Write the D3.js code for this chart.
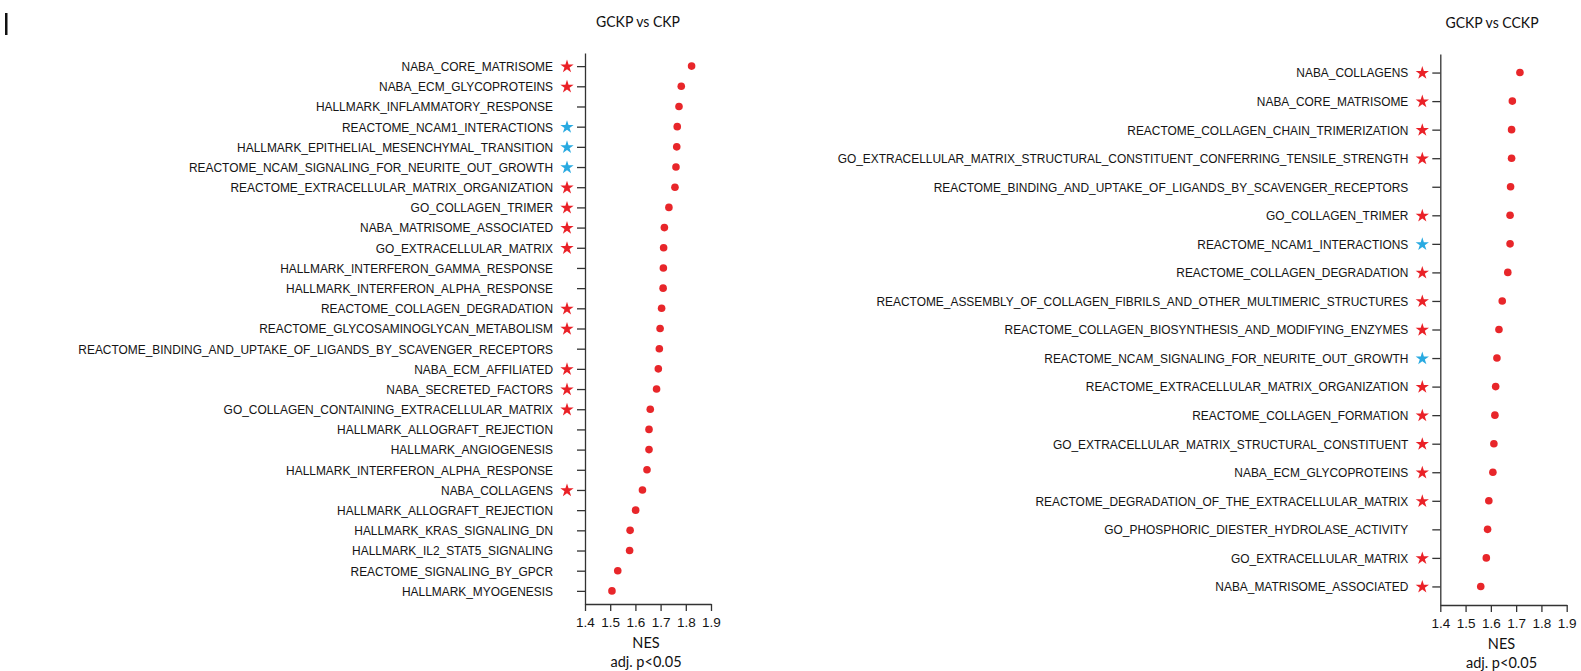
<!DOCTYPE html>
<html>
<head>
<meta charset="utf-8">
<script src="https://cdn.jsdelivr.net/npm/d3@7"></script>
<style>
  body { margin: 0; background: #fff; }
  svg { display: block; font-family: Lato, "Noto Sans", sans-serif; }
</style>
</head>
<body>
<svg id="chart" width="1581" height="671"></svg>
<script>
// GCKP vs CKP
const leftLabels = [
    'NABA_CORE_MATRISOME',
    'NABA_ECM_GLYCOPROTEINS',
    'HALLMARK_INFLAMMATORY_RESPONSE',
    'REACTOME_NCAM1_INTERACTIONS',
    'HALLMARK_EPITHELIAL_MESENCHYMAL_TRANSITION',
    'REACTOME_NCAM_SIGNALING_FOR_NEURITE_OUT_GROWTH',
    'REACTOME_EXTRACELLULAR_MATRIX_ORGANIZATION',
    'GO_COLLAGEN_TRIMER',
    'NABA_MATRISOME_ASSOCIATED',
    'GO_EXTRACELLULAR_MATRIX',
    'HALLMARK_INTERFERON_GAMMA_RESPONSE',
    'HALLMARK_INTERFERON_ALPHA_RESPONSE',
    'REACTOME_COLLAGEN_DEGRADATION',
    'REACTOME_GLYCOSAMINOGLYCAN_METABOLISM',
    'REACTOME_BINDING_AND_UPTAKE_OF_LIGANDS_BY_SCAVENGER_RECEPTORS',
    'NABA_ECM_AFFILIATED',
    'NABA_SECRETED_FACTORS',
    'GO_COLLAGEN_CONTAINING_EXTRACELLULAR_MATRIX',
    'HALLMARK_ALLOGRAFT_REJECTION',
    'HALLMARK_ANGIOGENESIS',
    'HALLMARK_INTERFERON_ALPHA_RESPONSE',
    'NABA_COLLAGENS',
    'HALLMARK_ALLOGRAFT_REJECTION',
    'HALLMARK_KRAS_SIGNALING_DN',
    'HALLMARK_IL2_STAT5_SIGNALING',
    'REACTOME_SIGNALING_BY_GPCR',
    'HALLMARK_MYOGENESIS'
]
const leftNES = [1.823, 1.782, 1.773, 1.766, 1.764, 1.761, 1.757, 1.733, 1.715, 1.712,
    1.711, 1.710, 1.704, 1.698, 1.695, 1.691, 1.684, 1.659, 1.654, 1.654,
    1.646, 1.628, 1.601, 1.579, 1.577, 1.530, 1.507]
const leftStars = ['red', 'red', '', 'blue', 'blue', 'blue', 'red', 'red', 'red', 'red',
    '', '', 'red', 'red', '', 'red', 'red', 'red', '', '',
    '', 'red', '', '', '', '', '']

// GCKP vs CCKP
const rightLabels = [
    'NABA_COLLAGENS',
    'NABA_CORE_MATRISOME',
    'REACTOME_COLLAGEN_CHAIN_TRIMERIZATION',
    'GO_EXTRACELLULAR_MATRIX_STRUCTURAL_CONSTITUENT_CONFERRING_TENSILE_STRENGTH',
    'REACTOME_BINDING_AND_UPTAKE_OF_LIGANDS_BY_SCAVENGER_RECEPTORS',
    'GO_COLLAGEN_TRIMER',
    'REACTOME_NCAM1_INTERACTIONS',
    'REACTOME_COLLAGEN_DEGRADATION',
    'REACTOME_ASSEMBLY_OF_COLLAGEN_FIBRILS_AND_OTHER_MULTIMERIC_STRUCTURES',
    'REACTOME_COLLAGEN_BIOSYNTHESIS_AND_MODIFYING_ENZYMES',
    'REACTOME_NCAM_SIGNALING_FOR_NEURITE_OUT_GROWTH',
    'REACTOME_EXTRACELLULAR_MATRIX_ORGANIZATION',
    'REACTOME_COLLAGEN_FORMATION',
    'GO_EXTRACELLULAR_MATRIX_STRUCTURAL_CONSTITUENT',
    'NABA_ECM_GLYCOPROTEINS',
    'REACTOME_DEGRADATION_OF_THE_EXTRACELLULAR_MATRIX',
    'GO_PHOSPHORIC_DIESTER_HYDROLASE_ACTIVITY',
    'GO_EXTRACELLULAR_MATRIX',
    'NABA_MATRISOME_ASSOCIATED'
]
const rightNES = [1.715, 1.685, 1.682, 1.682, 1.678, 1.676, 1.676, 1.667, 1.645, 1.632,
    1.624, 1.619, 1.616, 1.612, 1.608, 1.592, 1.587, 1.582, 1.560]
const rightStars = ['red', 'red', 'red', 'red', '', 'red', 'blue', 'red', 'red', 'red',
    'blue', 'red', 'red', 'red', 'red', 'red', '', 'red', 'red']

const xTicks = [1.4, 1.5, 1.6, 1.7, 1.8, 1.9]
const xDomain = [1.4, 1.9]

const starColor = { red: '#ea2127', blue: '#29aae1' }
const dotColor = '#e8262a'
const axisColor = '#333'
// the original face is a narrow sans; squeeze Lato horizontally to match
const squeeze = 0.877

const svg = d3.select('#chart')

// stray cursor bar in the top-left corner
svg.append('rect')
    .attr('x', 5).attr('y', 13)
    .attr('width', 2.5).attr('height', 22)
    .attr('fill', '#111')

const make_panel = (labels, nes, stars, opt) => {
    const g = svg.append('g')
    const idx = d3.range(labels.length)

    const x = d3.scaleLinear()
        .domain(xDomain)
        .range([opt.left, opt.right])
    const y = d3.scalePoint()
        .domain(idx)
        .range([opt.top, opt.bottom])
        .padding(0.65)

    g.append('text')
        .attr('transform', `translate(${opt.titleX},${opt.titleY}) scale(${squeeze},1)`)
        .attr('text-anchor', 'middle')
        .attr('font-size', 16)
        .attr('fill', '#111')
        .text(opt.title)

    const tickSize = 8, tickPad = 24
    const yAxis = g.append('g')
        .attr('transform', `translate(${opt.left},0)`)
        .call(d3.axisLeft(y)
            .tickSize(tickSize)
            .tickSizeOuter(0)
            .tickPadding(tickPad)
            .tickFormat(i => labels[i]))
    yAxis.selectAll('text')
        .attr('font-size', 13.6)
        .attr('fill', '#141414')
        .attr('x', -(tickSize + tickPad) / squeeze)
        .attr('transform', `scale(${squeeze},1)`)

    const xAxis = g.append('g')
        .attr('transform', `translate(0,${opt.bottom})`)
        .call(d3.axisBottom(x)
            .tickValues(xTicks)
            .tickSize(7)
            .tickSizeOuter(0)
            .tickPadding(6)
            .tickFormat(d3.format('.1f')))
    xAxis.selectAll('text')
        .attr('font-size', 13.5)
        .attr('fill', '#141414')

    g.selectAll('.domain, .tick line')
        .attr('stroke', axisColor)
        .attr('stroke-width', 1.3)

    g.selectAll('.star')
        .data(idx.filter(i => stars[i]))
        .join('path')
        .attr('class', 'star')
        .attr('d', d3.symbol(d3.symbolStar, 55))
        .attr('transform', i => `translate(${opt.left - 18},${y(i) + 0.5})`)
        .attr('fill', i => starColor[stars[i]])

    g.selectAll('.dot')
        .data(idx)
        .join('circle')
        .attr('class', 'dot')
        .attr('cx', i => x(nes[i]))
        .attr('cy', i => y(i))
        .attr('r', 3.8)
        .attr('fill', dotColor)

    const mid = (opt.left + opt.right) / 2
    g.append('text')
        .attr('x', mid - 2).attr('y', opt.bottom + 44)
        .attr('text-anchor', 'middle')
        .attr('font-size', 14.5)
        .attr('fill', '#111')
        .text('NES')
    g.append('text')
        .attr('x', mid - 2).attr('y', opt.bottom + 63)
        .attr('text-anchor', 'middle')
        .attr('font-size', 14.5)
        .attr('fill', '#111')
        .text('adj. p<0.05')
}

make_panel(leftLabels, leftNES, leftStars, {
    title: 'GCKP vs CKP', titleX: 638, titleY: 27,
    left: 585, right: 711, top: 53, bottom: 604
})
make_panel(rightLabels, rightNES, rightStars, {
    title: 'GCKP vs CCKP', titleX: 1492, titleY: 28,
    left: 1440.3, right: 1566.7, top: 54, bottom: 605
})
</script>
</body>
</html>
